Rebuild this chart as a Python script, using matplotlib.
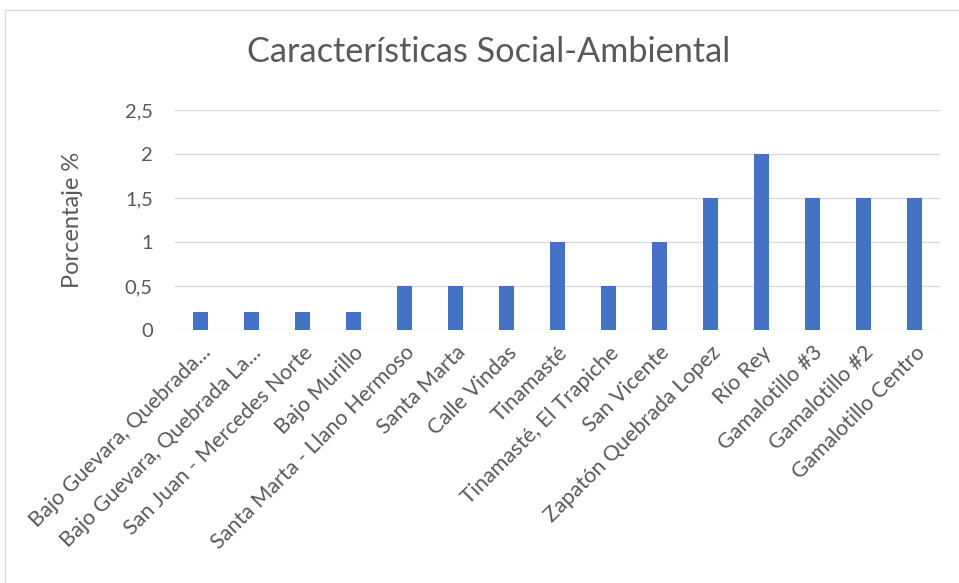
import matplotlib.pyplot as plt
from matplotlib.patches import Rectangle

comunidades = ["Bajo Guevara, Quebrada...", "Bajo Guevara, Quebrada La...",
               "San Juan - Mercedes Norte", "Bajo Murillo", "Santa Marta - Llano Hermoso",
               "Santa Marta", "Calle Vindas", "Tinamasté", "Tinamasté, El Trapiche",
               "San Vicente", "Zapatón Quebrada Lopez", "Río Rey", "Gamalotillo #3",
               "Gamalotillo #2", "Gamalotillo Centro"]
porcentaje = [0.2, 0.2, 0.2, 0.2, 0.5, 0.5, 0.5, 1, 0.5, 1, 1.5, 2, 1.5, 1.5, 1.5]
yticks = [0, 0.5, 1, 1.5, 2, 2.5]
ylabels = ["0", "0,5", "1", "1,5", "2", "2,5"]

plt.rcParams['font.family'] = ['Lato', 'DejaVu Sans']
gris = '#595959'

fig = plt.figure(figsize=(9.59, 5.83), dpi=100)
fig.patches.append(Rectangle((5 / 959, -0.01), 1.0, 1 - 10 / 583 + 0.01, transform=fig.transFigure,
                             fill=False, edgecolor='#d9d9d9', linewidth=1))
ax = fig.add_axes([175 / 959, 1 - 330 / 583, 765 / 959, 220 / 583])

x = list(range(len(comunidades)))
ax.bar(x, porcentaje, width=0.31, color='#4472C4', zorder=3)

ax.set_xlim(-0.5, len(comunidades) - 0.5)
ax.set_ylim(0, 2.5)
ax.set_yticks(yticks)
ax.set_yticklabels(ylabels, color=gris, fontsize=14.5)
ax.set_xticks(x)
ax.set_xticklabels(comunidades, rotation=45, ha='right', rotation_mode='anchor',
                   color=gris, fontsize=15.5)
ax.tick_params(axis='x', length=0, pad=9)
ax.tick_params(axis='y', length=0, pad=16)
ax.grid(axis='y', color='#d9d9d9', linewidth=1, zorder=0)
for s in ax.spines.values():
    s.set_visible(False)

ax.set_ylabel("Porcentaje %", color=gris, fontsize=17, labelpad=30)
fig.text(489 / 959, 1 - 52 / 583, "Características Social-Ambiental", ha='center', va='center',
         color=gris, fontsize=24.7)

fig.savefig("out.png", dpi=100)
